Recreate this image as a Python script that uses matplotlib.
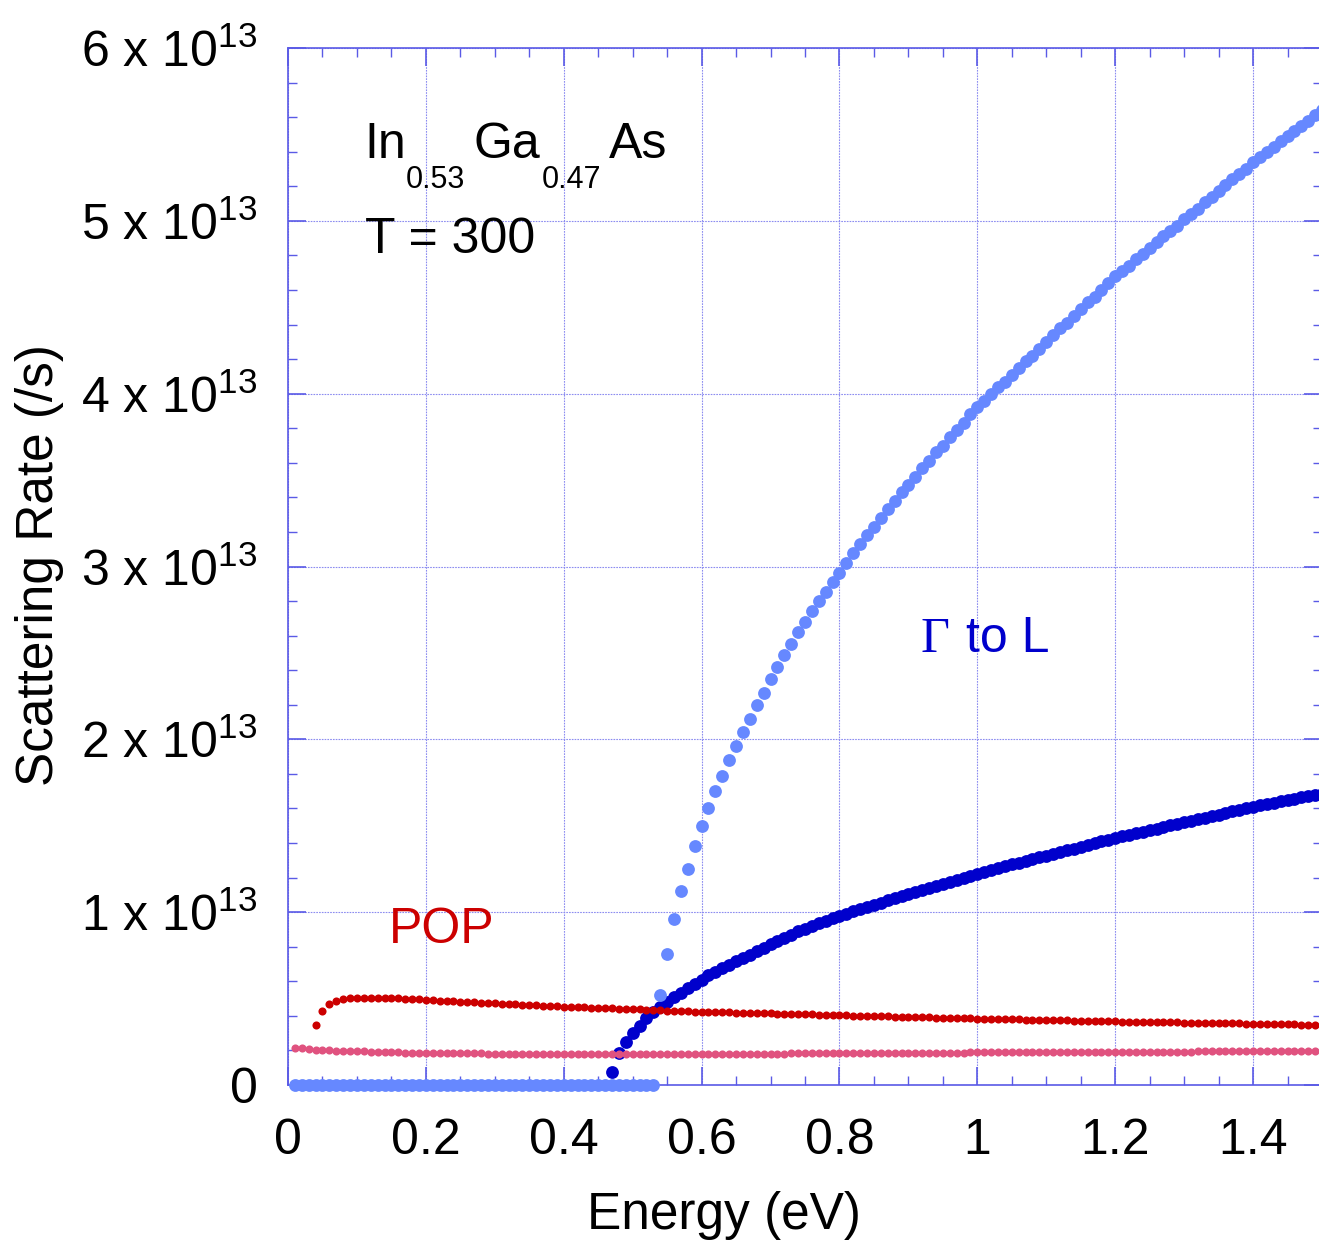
import numpy as np
import matplotlib
matplotlib.use('Agg')
import matplotlib.pyplot as plt
from matplotlib.ticker import MultipleLocator, FuncFormatter

W, H = 1319, 1248

# energy grid (eV), every series ends at 1.50 eV
energy = np.round(np.arange(1, 151) * 0.01, 2)

# scattering rates in units of 1e13 /s
# Gamma -> L, upper branch (light blue): zero up to 0.53 eV
gl_upper_zero = [0.0] * 53
gl_upper_rise = [
    0.52, 0.76, 0.96, 1.12, 1.25, 1.38, 1.50,
    1.60, 1.70, 1.79, 1.88, 1.96, 2.04, 2.12, 2.20, 2.27, 2.35,
    2.42, 2.49, 2.55, 2.62, 2.68, 2.74, 2.80, 2.85, 2.91, 2.96,
    3.02, 3.08, 3.13, 3.18, 3.23, 3.28, 3.33, 3.38, 3.43, 3.47,
    3.52, 3.57, 3.61, 3.66, 3.70, 3.75, 3.79, 3.83, 3.88, 3.92,
    3.96, 4.00, 4.04, 4.07, 4.11, 4.15, 4.19, 4.22, 4.26, 4.30,
    4.34, 4.38, 4.41, 4.45, 4.49, 4.53, 4.56, 4.60, 4.64, 4.68,
    4.71, 4.74, 4.78, 4.81, 4.84, 4.88, 4.91, 4.94, 4.97, 5.01,
    5.04, 5.07, 5.11, 5.14, 5.17, 5.21, 5.24, 5.27, 5.30, 5.34,
    5.37, 5.40, 5.43, 5.46, 5.49, 5.52, 5.55, 5.58, 5.61, 5.64,
]
gl_upper = gl_upper_zero + gl_upper_rise

# Gamma -> L, lower branch (dark blue), starts at 0.47 eV
gl_lower = [
    0.075, 0.185, 0.25, 0.30,
    0.34, 0.385, 0.42, 0.45, 0.48, 0.51, 0.535, 0.56, 0.585, 0.61,
    0.635, 0.655, 0.675, 0.695, 0.715, 0.735, 0.755, 0.775, 0.795, 0.815,
    0.835, 0.85, 0.87, 0.89, 0.905, 0.92, 0.935, 0.95, 0.965, 0.978,
    0.99, 1.005, 1.018, 1.03, 1.043, 1.055, 1.068, 1.08, 1.092, 1.104,
    1.116, 1.128, 1.14, 1.152, 1.164, 1.176, 1.188, 1.20, 1.212, 1.223,
    1.234, 1.245, 1.256, 1.266, 1.276, 1.286, 1.296, 1.307, 1.317, 1.327,
    1.337, 1.348, 1.358, 1.368, 1.379, 1.389, 1.399, 1.409, 1.42, 1.43,
    1.439, 1.448, 1.457, 1.466, 1.475, 1.484, 1.493, 1.502, 1.511, 1.52,
    1.529, 1.538, 1.547, 1.556, 1.565, 1.574, 1.583, 1.592, 1.601, 1.61,
    1.618, 1.626, 1.634, 1.642, 1.65, 1.657, 1.664, 1.671, 1.678, 1.685,
]

# POP emission (red), starts at 0.04 eV
pop_emission = [
    0.35, 0.43, 0.47, 0.487, 0.496, 0.501, 0.504,
    0.505, 0.505, 0.505, 0.504, 0.503, 0.501, 0.499, 0.497, 0.495, 0.492,
    0.490, 0.488, 0.486, 0.484, 0.482, 0.480, 0.478, 0.476, 0.474, 0.472,
    0.470, 0.468, 0.466, 0.464, 0.462, 0.461, 0.459, 0.457, 0.455, 0.453,
    0.452, 0.450, 0.449, 0.447, 0.446, 0.445, 0.443, 0.442, 0.441, 0.440,
    0.438, 0.436, 0.434, 0.432, 0.431, 0.429, 0.428, 0.426, 0.425, 0.424,
    0.423, 0.422, 0.421, 0.420, 0.419, 0.418, 0.417, 0.416, 0.415, 0.414,
    0.413, 0.412, 0.411, 0.410, 0.409, 0.408, 0.407, 0.406, 0.405, 0.404,
    0.403, 0.402, 0.401, 0.400, 0.399, 0.398, 0.397, 0.396, 0.395, 0.394,
    0.393, 0.392, 0.391, 0.390, 0.389, 0.388, 0.387, 0.386, 0.385, 0.384,
    0.383, 0.382, 0.382, 0.381, 0.380, 0.379, 0.378, 0.378, 0.377, 0.376,
    0.375, 0.374, 0.374, 0.373, 0.372, 0.371, 0.370, 0.370, 0.369, 0.368,
    0.367, 0.367, 0.366, 0.365, 0.365, 0.364, 0.363, 0.363, 0.362, 0.361,
    0.361, 0.360, 0.359, 0.359, 0.358, 0.357, 0.357, 0.356, 0.355, 0.355,
    0.354, 0.353, 0.353, 0.352, 0.351, 0.351, 0.350, 0.349, 0.349, 0.348,
]

# POP absorption (pink), starts at 0.01 eV
pop_absorption = [
    0.216, 0.212, 0.208, 0.205, 0.202, 0.200, 0.198, 0.197, 0.196, 0.195,
    0.194, 0.193, 0.192, 0.191, 0.190, 0.189, 0.188, 0.188, 0.187, 0.186,
    0.186, 0.185, 0.185, 0.184, 0.184, 0.183, 0.183, 0.183, 0.182, 0.182,
    0.182, 0.182, 0.181, 0.181, 0.181, 0.181, 0.181, 0.181, 0.181, 0.181,
    0.181, 0.180, 0.180, 0.180, 0.180, 0.180, 0.180, 0.180, 0.180, 0.180,
    0.180, 0.180, 0.180, 0.180, 0.180, 0.180, 0.180, 0.180, 0.180, 0.180,
    0.180, 0.180, 0.181, 0.181, 0.181, 0.181, 0.181, 0.182, 0.182, 0.182,
    0.182, 0.182, 0.183, 0.183, 0.183, 0.183, 0.183, 0.184, 0.184, 0.184,
    0.184, 0.185, 0.185, 0.185, 0.185, 0.186, 0.186, 0.186, 0.186, 0.187,
    0.187, 0.187, 0.187, 0.188, 0.188, 0.188, 0.188, 0.188, 0.189, 0.189,
    0.189, 0.189, 0.189, 0.190, 0.190, 0.190, 0.190, 0.190, 0.190, 0.191,
    0.191, 0.191, 0.191, 0.191, 0.191, 0.191, 0.192, 0.192, 0.192, 0.192,
    0.192, 0.192, 0.192, 0.193, 0.193, 0.193, 0.193, 0.193, 0.193, 0.193,
    0.193, 0.194, 0.194, 0.194, 0.194, 0.194, 0.194, 0.194, 0.195, 0.195,
    0.195, 0.195, 0.195, 0.195, 0.196, 0.196, 0.196, 0.196, 0.196, 0.196,
]

AXIS_BLUE = '#5a5ae6'
GRID_BLUE = '#8c8cf0'

plt.rcParams['font.family'] = ['Liberation Sans', 'DejaVu Sans']
plt.rcParams['mathtext.fontset'] = 'custom'
plt.rcParams['mathtext.rm'] = 'Liberation Sans'
plt.rcParams['mathtext.default'] = 'regular'


def tail(values):
    # all series end at the last energy point
    return energy[-len(values):]


def fig_text(fig, x, y, s, **kw):
    # place text by pixel position (x, baseline y) in the figure
    fig.text(x / W, 1 - y / H, s, va='baseline', ha='left', **kw)


def y_label(v, pos):
    n = int(round(v))
    if n == 0:
        return '0'
    return r'%d x 10$^{13}$' % n


fig = plt.figure(figsize=(W / 100, H / 100), dpi=100)
ax = fig.add_axes([288 / W, 1 - 1085 / H, (1322 - 288) / W, (1085 - 48) / H])

ax.scatter(tail(gl_lower), gl_lower, s=85, color='#0000cc', lw=0, zorder=3, clip_on=False)
ax.scatter(tail(pop_emission), pop_emission, s=34, color='#cc0000', lw=0, zorder=4, clip_on=False)
ax.scatter(tail(pop_absorption), pop_absorption, s=34, color='#e0527f', lw=0, zorder=4, clip_on=False)
ax.scatter(tail(gl_upper), gl_upper, s=85, color='#6688ff', lw=0, zorder=5, clip_on=False)

ax.set_xlim(0, 1.5)
ax.set_ylim(0, 6)
ax.xaxis.set_major_locator(MultipleLocator(0.2))
ax.xaxis.set_minor_locator(MultipleLocator(0.05))
ax.yaxis.set_major_locator(MultipleLocator(1))
ax.yaxis.set_minor_locator(MultipleLocator(0.2))
ax.xaxis.set_major_formatter(FuncFormatter(lambda v, pos: '%g' % round(v, 1)))
ax.yaxis.set_major_formatter(FuncFormatter(y_label))

ax.grid(which='major', color=GRID_BLUE, linestyle=(0, (1.5, 1)), linewidth=0.8)
ax.set_axisbelow(True)
for side in ax.spines.values():
    side.set_color(AXIS_BLUE)
    side.set_linewidth(1.2)
ax.tick_params(which='both', direction='in', top=True, right=True, color=AXIS_BLUE)
ax.tick_params(which='major', length=13, width=1.2, labelsize=36)
ax.tick_params(which='minor', length=6.5, width=1.0)
ax.tick_params(axis='x', pad=24)
ax.tick_params(axis='y', pad=22)

fig.text(40 / W, 1 - 565 / H, 'Scattering Rate (/s)', rotation=90,
         ha='center', va='center', fontsize=37)
fig.text(724 / W, 1 - 1216 / H, 'Energy (eV)', ha='center', va='center', fontsize=37)

fig_text(fig, 364, 158, 'In', fontsize=36)
fig_text(fig, 406, 188, '0.53', fontsize=22)
fig_text(fig, 474, 158, 'Ga', fontsize=36)
fig_text(fig, 542, 188, '0.47', fontsize=22)
fig_text(fig, 609, 158, 'As', fontsize=36)
fig_text(fig, 365, 253, 'T = 300', fontsize=36)

fig_text(fig, 389, 943, 'POP', fontsize=36, color='#cc0000')
fig_text(fig, 920, 652, '\u0393', fontsize=36, color='#0000cc', family='Liberation Serif')
fig_text(fig, 966, 652, 'to L', fontsize=36, color='#0000cc')

fig.savefig('out.png', dpi=100)
